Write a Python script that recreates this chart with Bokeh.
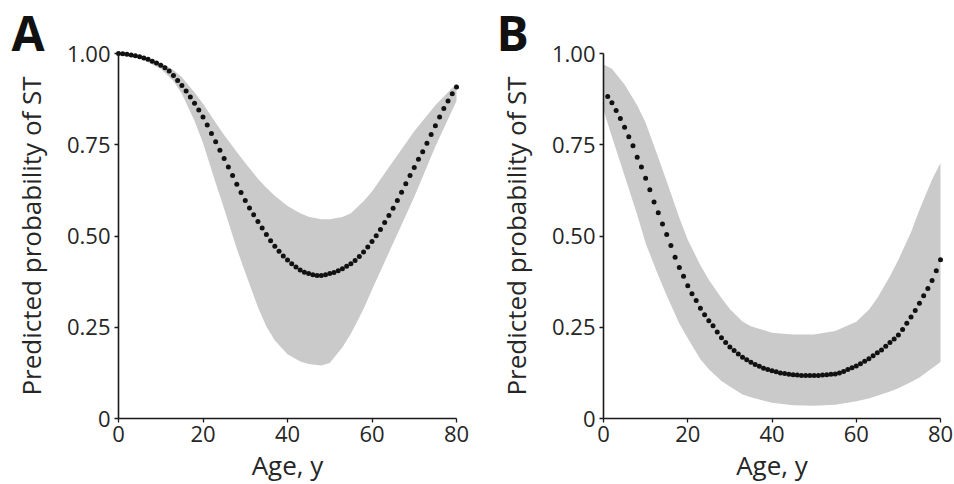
from bokeh.plotting import figure
from bokeh.models import Range1d, FixedTicker, NumeralTickFormatter, Label
from bokeh.layouts import row
from bokeh.embed import file_html
from bokeh.resources import INLINE

# ---------------- data ----------------
x_ticks = [0, 20, 40, 60, 80]
y_ticks = [0, 0.25, 0.5, 0.75, 1.0]
x_label = "Age, y"
y_label = "Predicted probability of ST"

# Panel A: predicted probability by single year of age
age_a = list(range(0, 81))
prob_a = [1.000, 0.999, 0.998, 0.996, 0.994, 0.991, 0.988, 0.984, 0.979, 0.974,
          0.968, 0.961, 0.952, 0.940, 0.926, 0.912, 0.897, 0.881, 0.864, 0.845,
          0.826, 0.804, 0.781, 0.758, 0.735, 0.712, 0.689, 0.666, 0.642, 0.619,
          0.597, 0.577, 0.558, 0.540, 0.522, 0.504, 0.487, 0.472, 0.458, 0.445,
          0.434, 0.424, 0.415, 0.407, 0.401, 0.397, 0.394, 0.392, 0.392, 0.394,
          0.397, 0.400, 0.405, 0.410, 0.417, 0.424, 0.433, 0.444, 0.456, 0.470,
          0.485, 0.501, 0.518, 0.537, 0.556, 0.576, 0.597, 0.620, 0.643, 0.666,
          0.688, 0.710, 0.731, 0.754, 0.778, 0.802, 0.826, 0.849, 0.870, 0.890,
          0.908]
band_age_a = [0, 5, 10, 13, 15, 18, 20, 23, 25, 28, 30, 33, 35, 37, 40, 43, 45,
              48, 50, 53, 55, 58, 60, 65, 70, 75, 80]
upper_a = [1.000, 0.993, 0.975, 0.955, 0.935, 0.893, 0.862, 0.810, 0.777, 0.730,
           0.700, 0.657, 0.632, 0.610, 0.582, 0.562, 0.553, 0.546, 0.546, 0.552,
           0.562, 0.595, 0.622, 0.705, 0.787, 0.858, 0.918]
lower_a = [1.000, 0.987, 0.958, 0.925, 0.890, 0.815, 0.755, 0.645, 0.575, 0.465,
           0.400, 0.305, 0.252, 0.214, 0.176, 0.156, 0.149, 0.145, 0.152, 0.195,
           0.232, 0.300, 0.353, 0.480, 0.607, 0.745, 0.870]

# Panel B
age_b = list(range(1, 81))
prob_b = [0.882, 0.865, 0.844, 0.822, 0.798, 0.772, 0.747, 0.716, 0.689, 0.658,
          0.627, 0.593, 0.564, 0.533, 0.504, 0.474, 0.442, 0.414, 0.390, 0.364,
          0.342, 0.323, 0.302, 0.284, 0.268, 0.254, 0.237, 0.221, 0.208, 0.196,
          0.186, 0.177, 0.168, 0.161, 0.154, 0.148, 0.143, 0.138, 0.134, 0.131,
          0.128, 0.125, 0.123, 0.121, 0.120, 0.119, 0.118, 0.118, 0.118, 0.118,
          0.118, 0.119, 0.120, 0.121, 0.122, 0.125, 0.129, 0.134, 0.139, 0.144,
          0.150, 0.157, 0.164, 0.172, 0.180, 0.188, 0.198, 0.208, 0.218, 0.229,
          0.244, 0.261, 0.278, 0.296, 0.316, 0.336, 0.356, 0.378, 0.405, 0.435]
band_age_b = [0, 2, 5, 8, 10, 13, 15, 18, 20, 23, 25, 28, 30, 33, 35, 40, 45, 50,
              55, 60, 63, 65, 68, 70, 73, 75, 78, 80]
upper_b = [0.970, 0.958, 0.915, 0.858, 0.810, 0.715, 0.650, 0.550, 0.490, 0.420,
           0.380, 0.330, 0.300, 0.266, 0.253, 0.235, 0.230, 0.230, 0.240, 0.265,
           0.298, 0.330, 0.390, 0.435, 0.510, 0.572, 0.655, 0.700]
lower_b = [0.845, 0.772, 0.665, 0.558, 0.480, 0.392, 0.337, 0.260, 0.220, 0.162,
           0.135, 0.103, 0.088, 0.066, 0.058, 0.043, 0.036, 0.035, 0.038, 0.047,
           0.055, 0.062, 0.074, 0.083, 0.100, 0.112, 0.138, 0.155]

FONT = "Open Sans"
TXT = "#262626"
BAND = "#cacaca"

W, H = 477, 484
TOP, BOTTOM = 53, 66   # pixel margins around the plotting box


def panel(letter, ages, prob, bage, up, lo, left, right, lab_x):
    # the frame covers the whole canvas; axes are pinned at 0 with fixed_location
    pw = W - left - right
    ph = H - TOP - BOTTOM
    xr = Range1d(-left * 80 / pw, 80 + right * 80 / pw)
    yr = Range1d(-BOTTOM / ph, 1 + TOP / ph)
    p = figure(width=W, height=H, output_backend="svg", toolbar_location=None,
               x_range=xr, y_range=yr, min_border=0,
               min_border_left=0, min_border_right=0,
               min_border_top=0, min_border_bottom=0)
    p.outline_line_color = None
    p.background_fill_color = "white"
    p.border_fill_color = "white"
    p.xgrid.visible = False
    p.ygrid.visible = False

    p.varea(x=bage, y1=lo, y2=up, fill_color=BAND, fill_alpha=1.0)
    p.scatter(x=ages, y=prob, size=5.0, color="#111111", line_color=None)

    p.xaxis.ticker = FixedTicker(ticks=x_ticks)
    p.yaxis.ticker = FixedTicker(ticks=y_ticks)
    p.yaxis.formatter = NumeralTickFormatter(format="0.00")
    p.yaxis.major_label_overrides = {0: "0"}
    p.xaxis.fixed_location = 0
    p.yaxis.fixed_location = 0
    p.xaxis.bounds = (0, 80)
    p.yaxis.bounds = (0, 1)
    for ax in (p.xaxis[0], p.yaxis[0]):
        ax.axis_line_color = "#1a1a1a"
        ax.axis_line_width = 1.6
        ax.major_tick_line_color = "#1a1a1a"
        ax.major_tick_line_width = 1.3
        ax.major_tick_out = 4
        ax.major_tick_in = 0
        ax.minor_tick_line_color = None
        ax.major_label_text_font = FONT
        ax.major_label_text_font_size = "22px"
        ax.major_label_text_color = TXT
        ax.axis_label_text_font = FONT
        ax.axis_label_text_font_size = "26px"
        ax.axis_label_text_font_style = "normal"
        ax.axis_label_text_color = TXT
    p.xaxis.axis_label = x_label
    p.yaxis.axis_label = y_label
    p.xaxis.major_label_standoff = 3
    p.yaxis.major_label_standoff = 4
    p.xaxis.axis_label_standoff = 2
    p.yaxis.axis_label_standoff = 15

    lab = Label(x=lab_x, y=H - 32, x_units="screen", y_units="screen", text=letter,
                text_font=FONT, text_font_size="48px", text_font_style="bold",
                text_color="#111111", text_baseline="alphabetic")
    p.add_layout(lab)
    return p


pa = panel("A", age_a, prob_a, band_age_a, upper_a, lower_a, 118, 21, 11)
pb = panel("B", age_b, prob_b, band_age_b, upper_b, lower_b, 126, 14, 19)

layout = row(pa, pb)
open("out.html", "w").write(file_html(layout, INLINE))
